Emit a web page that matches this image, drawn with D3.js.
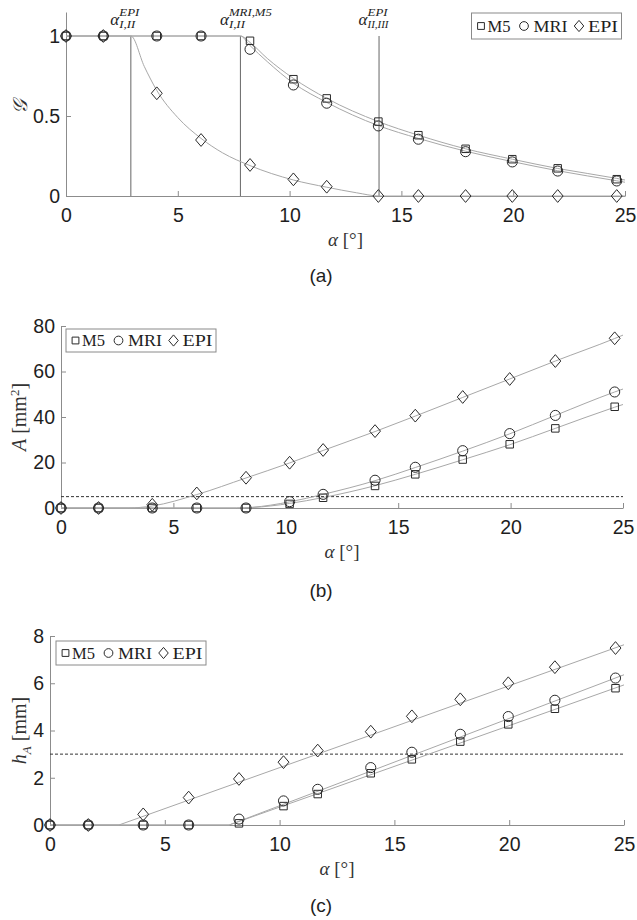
<!DOCTYPE html>
<html><head><meta charset="utf-8">
<script src="https://cdn.jsdelivr.net/npm/d3@7"></script>
<style>
html,body{margin:0;padding:0;background:#fff;}
svg{display:block;}
</style></head><body>
<svg id="fig" width="637" height="920"></svg>
<script>
// Measurement angles [deg]
const alpha = [0, 1.67, 4.06, 6.04, 8.23, 10.17, 11.66, 13.97, 15.76, 17.87, 19.96, 21.99, 24.63];
const seriesNames = ["M5", "MRI", "EPI"];

// (a) ratio G
const gM5  = [1, 1, 1, 1, 0.97, 0.73, 0.61, 0.465, 0.38, 0.295, 0.23, 0.173, 0.105];
const gMRI = [1, 1, 1, 1, 0.917, 0.694, 0.58, 0.438, 0.355, 0.277, 0.213, 0.156, 0.094];
const gEPI = [1, 1, 0.642, 0.35, 0.194, 0.104, 0.058, 0, 0, 0, 0, 0, 0];
// fitted curves for (a)
const gFitM5  = [[0,1],[7.8,1],[8.23,0.96],[9,0.86],[10.17,0.735],[11.66,0.61],[13.97,0.465],[15.76,0.38],[17.87,0.295],[19.96,0.23],[21.99,0.172],[24.63,0.11],[25,0.1]];
const gFitMRI = [[0,1],[7.8,1],[8.23,0.94],[9,0.84],[10.17,0.705],[11.66,0.585],[13.97,0.44],[15.76,0.36],[17.87,0.28],[19.96,0.215],[21.99,0.158],[24.63,0.095],[25,0.086]];
const gFitEPI = [[0,1],[2.9,1],[3.5,0.81],[4.06,0.66],[5,0.49],[6.04,0.36],[7,0.27],[8.23,0.19],[10.17,0.1],[11.66,0.055],[13,0.02],[14,0],[25,0]];
// transition angles
const alphaCrit = [2.9, 7.8, 14];

// (b) area A [mm^2]
const aM5  = [0, 0, 0, 0, 0, 1.8, 4.5, 9.7, 14.8, 21.3, 28, 35, 44.5];
const aMRI = [0, 0, 0, 0, 0, 2.8, 6.0, 12.2, 17.9, 25.2, 32.7, 40.7, 51];
const aEPI = [0, 0, 1.4, 6.4, 13.3, 19.9, 25.5, 33.8, 40.6, 48.8, 56.7, 64.6, 74.6];
const aFitM5  = [[0,0],[7.8,0],[8.5,0.2],[10.17,2.0],[11.66,4.6],[13.97,9.8],[15.76,14.8],[17.87,21.2],[19.96,27.8],[21.99,35],[24.63,44.3],[25,45.5]];
const aFitMRI = [[0,0],[7.8,0],[8.5,0.3],[10.17,2.7],[11.66,6.0],[13.97,12.0],[15.76,17.8],[17.87,25.0],[19.96,32.6],[21.99,40.7],[24.63,51],[25,52.3]];
const aFitEPI = [[0,0],[3.0,0],[4.06,0.9],[6.04,5.9],[8.23,13.2],[10.17,19.8],[11.66,25.3],[13.97,33.6],[15.76,40.4],[17.87,48.6],[19.96,56.7],[21.99,64.6],[24.63,74.5],[25,76]];
const aLimit = 5;

// (c) height h_A [mm]
const hM5  = [0, 0, 0, 0, 0.07, 0.8, 1.31, 2.19, 2.78, 3.53, 4.26, 4.92, 5.79];
const hMRI = [0, 0, 0, 0, 0.25, 1.02, 1.51, 2.43, 3.08, 3.84, 4.59, 5.28, 6.22];
const hEPI = [0, 0, 0.45, 1.16, 1.95, 2.66, 3.15, 3.95, 4.6, 5.32, 6.0, 6.68, 7.49];
const hFitM5  = [[0,0],[7.8,0],[25,5.93]];
const hFitMRI = [[0,0],[7.8,0],[25,6.36]];
const hFitEPI = [[0,0],[3.0,0],[25,7.63]];
const hLimit = 3;

// tick values
const xTicks = [0, 5, 10, 15, 20, 25];
const gTicks = [0, 0.5, 1];
const aTicks = [0, 20, 40, 60, 80];
const hTicks = [0, 2, 4, 6, 8];

const svg = d3.select("#fig");
const SANS = "'Liberation Sans', Arial, sans-serif";
const SERIF = "'Liberation Serif', 'Times New Roman', serif";
const AXIS_COLOR = "#8c8c8c";
const LINE_COLOR = "#a8a8a8";
const MARK_COLOR = "#2a2a2a";

// MATLAB-like diamond (wider than d3's)
const diamondType = {
  draw(ctx, s) {
    const hh = s, hw = s * 0.85;
    ctx.moveTo(0, -hh); ctx.lineTo(hw, 0); ctx.lineTo(0, hh); ctx.lineTo(-hw, 0); ctx.closePath();
  }
};
const markerPath = {
  M5: d3.symbol(d3.symbolSquare, 56)(),
  MRI: d3.symbol(d3.symbolCircle, 80)(),
  EPI: d3.symbol(diamondType, 6.4)()
};
const legendPath = {
  M5: d3.symbol(d3.symbolSquare, 46)(),
  MRI: d3.symbol(d3.symbolCircle, 60)(),
  EPI: d3.symbol(diamondType, 5.6)()
};

function drawPanel(cfg) {
  const g = svg.append("g");
  const x = d3.scaleLinear().domain([0, 25]).range(cfg.xRange);
  const y = d3.scaleLinear().domain(cfg.yDomain).range(cfg.yRange);

  // axes (left + bottom only, inward ticks)
  const xAxis = d3.axisBottom(x).tickValues(xTicks).tickSizeInner(-5).tickSizeOuter(0).tickPadding(12);
  const yAxis = d3.axisLeft(y).tickValues(cfg.yTicks).tickSizeInner(-5).tickSizeOuter(0).tickPadding(6)
    .tickFormat(cfg.yFormat || d3.format("~g"));
  const gx = g.append("g").attr("transform", `translate(0,${y(0)})`).call(xAxis);
  const gy = g.append("g").attr("transform", `translate(${x(0)},0)`).call(yAxis);
  [gx, gy].forEach(a => {
    a.select(".domain").attr("stroke", AXIS_COLOR).attr("stroke-width", 1);
    a.selectAll(".tick line").attr("stroke", AXIS_COLOR);
    a.selectAll(".tick text").attr("fill", "#1e1e1e").style("font-family", SANS).style("font-size", "19.5px");
  });

  // reference lines
  if (cfg.limit !== undefined) {
    g.append("line")
      .attr("x1", x(0)).attr("x2", x(25)).attr("y1", y(cfg.limit)).attr("y2", y(cfg.limit))
      .attr("stroke", "#333").attr("stroke-width", 1).attr("stroke-dasharray", "3,2");
  }
  if (cfg.vlines) {
    cfg.vlines.forEach(v => {
      g.append("line").attr("x1", x(v)).attr("x2", x(v)).attr("y1", y(0)).attr("y2", y(1))
        .attr("stroke", "#555").attr("stroke-width", 0.9);
    });
  }

  // fitted curves
  const line = d3.line().x(d => x(d[0])).y(d => y(d[1])).curve(cfg.curve || d3.curveLinear);
  cfg.fits.forEach(f => {
    g.append("path").attr("d", line(f)).attr("fill", "none")
      .attr("stroke", LINE_COLOR).attr("stroke-width", 1);
  });

  // markers
  seriesNames.forEach((name, si) => {
    g.append("g").selectAll("path").data(cfg.values[si]).join("path")
      .attr("transform", (d, i) => `translate(${x(alpha[i])},${y(d)})`)
      .attr("d", markerPath[name])
      .attr("fill", "none").attr("stroke", MARK_COLOR).attr("stroke-width", 1);
  });

  // legend
  const L = cfg.legend;
  const lg = g.append("g").attr("transform", `translate(${L.x},${L.y})`);
  lg.append("rect").attr("width", 150).attr("height", L.h).attr("fill", "#fff")
    .attr("stroke", "#8a8a8a").attr("stroke-width", 1);
  const items = [
    { name: "M5", mx: 9.5, tx: 16, w: 23 },
    { name: "MRI", mx: 52.5, tx: 62, w: 34 },
    { name: "EPI", mx: 107.5, tx: 116.5, w: 30 }
  ];
  items.forEach(it => {
    lg.append("path").attr("transform", `translate(${it.mx},${L.h / 2})`).attr("d", legendPath[it.name])
      .attr("fill", "none").attr("stroke", MARK_COLOR).attr("stroke-width", 1);
    lg.append("text").attr("x", it.tx).attr("y", L.h / 2 + 5.5).text(it.name)
      .attr("textLength", it.w).attr("lengthAdjust", "spacingAndGlyphs")
      .style("font-family", SERIF).style("font-size", "16px").attr("fill", "#1e1e1e");
  });

  // x label
  const xl = g.append("text").attr("x", (cfg.xRange[0] + cfg.xRange[1]) / 2).attr("y", y(0) + 50)
    .attr("text-anchor", "middle").style("font-family", SERIF).style("font-size", "19px").attr("fill", "#333");
  xl.append("tspan").attr("font-style", "italic").text("α");
  xl.append("tspan").text(" [°]");

  // y label
  const yc = (cfg.yRange[0] + cfg.yRange[1]) / 2;
  const yl = g.append("text").attr("transform", `translate(${cfg.yLabelX},${cfg.yLabelY || yc}) rotate(-90)`)
    .attr("text-anchor", "middle").style("font-family", SERIF).style("font-size", "20px").attr("fill", "#333");
  cfg.yLabel(yl);

  // panel tag
  g.append("text").attr("x", 321).attr("y", cfg.tagY).attr("text-anchor", "middle")
    .style("font-family", SANS).style("font-size", "19px").attr("fill", "#1e1e1e").text(cfg.tag);

  return { g, x, y };
}

// (a)
const pa = drawPanel({
  xRange: [66, 625], yDomain: [0, 1.15], yRange: [196, 12], yTicks: gTicks,
  yFormat: d => d === 0.5 ? "0.5" : String(d),
  values: [gM5, gMRI, gEPI], fits: [gFitM5, gFitMRI, gFitEPI], curve: d3.curveMonotoneX,
  vlines: alphaCrit,
  legend: { x: 471.5, y: 13, h: 26 },
  yLabelX: 27, yLabelY: 107,
  yLabel: t => t.append("tspan").style("font-family", "'DejaVu Serif', serif").attr("font-style", "italic").text("𝒢"),
  tag: "(a)", tagY: 282
});

// labels of transition angles
const critLabels = [
  { v: alphaCrit[0], sup: "EPI", sub: "I,II", supW: 20, subW: 16 },
  { v: alphaCrit[1], sup: "MRI,M5", sub: "I,II", supW: 43, subW: 16 },
  { v: alphaCrit[2], sup: "EPI", sub: "II,III", supW: 20, subW: 21 }
];
critLabels.forEach(c => {
  const cx = pa.x(c.v);
  const t = pa.g.append("g").style("font-family", SERIF).attr("fill", "#222");
  t.append("text").attr("x", cx - 20.5).attr("y", 24.5).attr("font-style", "italic")
    .style("font-size", "17px").text("α");
  t.append("text").attr("x", cx - 11.5).attr("y", 16).attr("font-style", "italic")
    .style("font-size", "10px").attr("textLength", c.supW).attr("lengthAdjust", "spacingAndGlyphs").text(c.sup);
  t.append("text").attr("x", cx - 11.5).attr("y", 27.5).attr("font-style", "italic")
    .style("font-size", "10px").attr("textLength", c.subW).attr("lengthAdjust", "spacingAndGlyphs").text(c.sub);
});

// (b)
drawPanel({
  xRange: [61, 623], yDomain: [0, 80], yRange: [508, 326], yTicks: aTicks,
  values: [aM5, aMRI, aEPI], fits: [aFitM5, aFitMRI, aFitEPI], curve: d3.curveMonotoneX,
  limit: aLimit,
  legend: { x: 66, y: 329, h: 23 },
  yLabelX: 26,
  yLabel: t => {
    t.append("tspan").attr("font-style", "italic").text("A");
    t.append("tspan").text(" [mm");
    t.append("tspan").attr("dy", -7).style("font-size", "13px").text("2");
    t.append("tspan").attr("dy", 7).text("]");
  },
  tag: "(b)", tagY: 597
});

// (c)
drawPanel({
  xRange: [50, 624], yDomain: [0, 8], yRange: [825, 636], yTicks: hTicks,
  values: [hM5, hMRI, hEPI], fits: [hFitM5, hFitMRI, hFitEPI],
  limit: hLimit,
  legend: { x: 56, y: 641, h: 24 },
  yLabelX: 26,
  yLabel: t => {
    t.append("tspan").attr("font-style", "italic").text("h");
    t.append("tspan").attr("dy", 5).attr("font-style", "italic").style("font-size", "13px").text("A");
    t.append("tspan").attr("dy", -5).text(" [mm]");
  },
  tag: "(c)", tagY: 912
});
</script>
</body></html>
